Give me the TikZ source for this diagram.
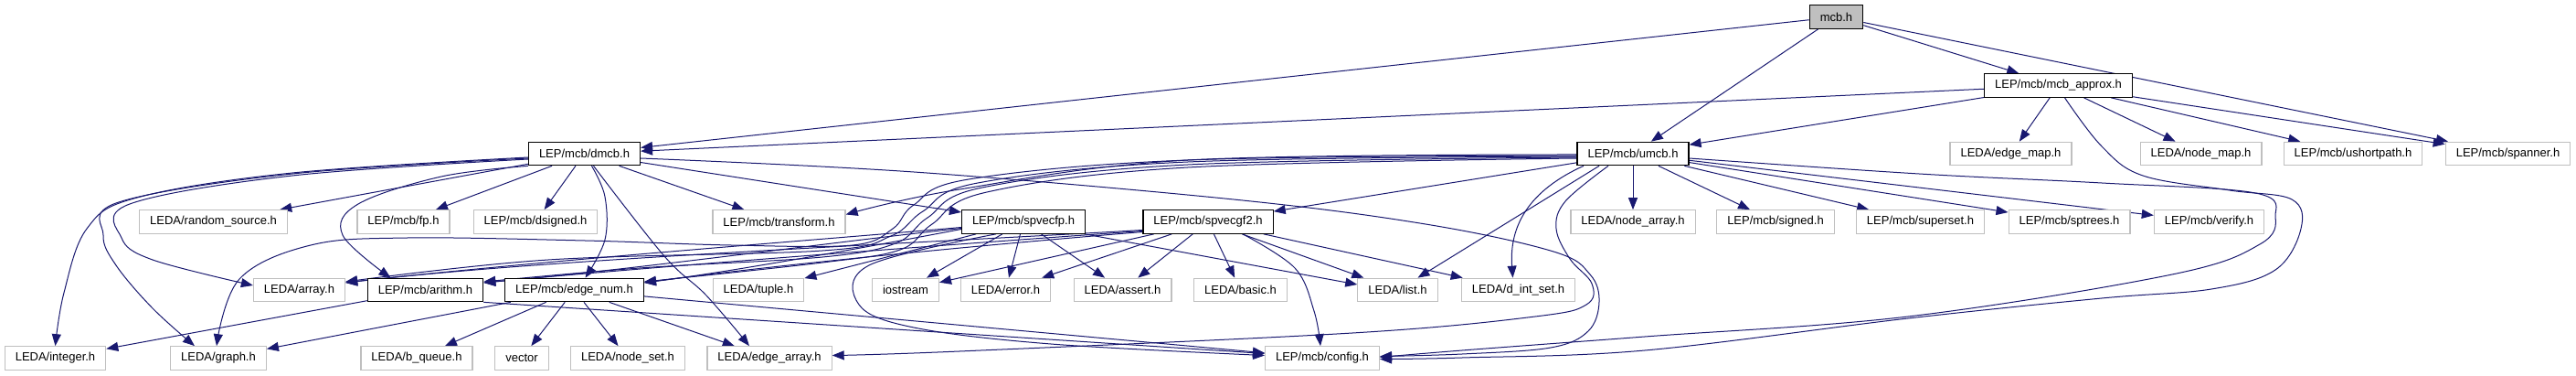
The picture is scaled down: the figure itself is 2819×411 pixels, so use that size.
\documentclass[tikz,border=0pt]{standalone}
\usepackage{fontspec}
\setmainfont{Liberation Sans}
\usetikzlibrary{arrows.meta}
\definecolor{edgeblue}{HTML}{191970}
\definecolor{lgray}{HTML}{BFBFBF}
\pgfdeclarelayer{bg}
\pgfdeclarelayer{paper}
\pgfsetlayers{paper,bg,main}
\tikzset{
  leafbox/.style={draw=lgray, fill=white, line width=1.2pt, minimum height=25.5pt,
    inner xsep=11.5pt, inner ysep=0pt, font=\fontsize{13}{15}\selectfont},
  incbox/.style={leafbox, draw=black},
  rootbox/.style={leafbox, draw=black, fill=lgray},
  dep/.style={draw=edgeblue, line width=1pt, -{Triangle[length=13pt,width=10pt]}},
  sm/.style={smooth, tension=0.6}
}
\begin{document}
\begin{tikzpicture}[x=1pt,y=-1pt]
\begin{pgfonlayer}{paper}
\fill[white] (0,0) rectangle (2819,411);
\end{pgfonlayer}
\useasboundingbox (0,0) rectangle (2819,411);
% row 1-2
\node[rootbox] (mcb) at (2009.5,18.5) {mcb.h};
\node[incbox] (approx) at (2252.5,93.5) {LEP/mcb/mcb\_approx.h};
% row 3
\node[incbox] (dmcb) at (639.5,168) {LEP/mcb/dmcb.h};
\node[incbox] (umcb) at (1787,168) {LEP/mcb/umcb.h};
\node[leafbox] (edgemap) at (2200.5,168) {LEDA/edge\_map.h};
\node[leafbox] (nodemap) at (2408.5,168) {LEDA/node\_map.h};
\node[leafbox] (ushort) at (2575,168) {LEP/mcb/ushortpath.h};
\node[leafbox] (spanner) at (2744.5,168) {LEP/mcb/spanner.h};
% row 4
\node[leafbox] (rsrc) at (233.5,242.5) {LEDA/random\_source.h};
\node[leafbox] (fp) at (441.5,242.5) {LEP/mcb/fp.h};
\node[leafbox] (dsigned) at (586,242.5) {LEP/mcb/dsigned.h};
\node[leafbox] (transform) at (852.5,242.5) {LEP/mcb/transform.h};
\node[incbox] (spvecfp) at (1120,242.5) {LEP/mcb/spvecfp.h};
\node[incbox] (spvecgf) at (1322,242.5) {LEP/mcb/spvecgf2.h};
\node[leafbox] (nodearray) at (1787,242.5) {LEDA/node\_array.h};
\node[leafbox] (signed) at (1943,242.5) {LEP/mcb/signed.h};
\node[leafbox] (superset) at (2101.5,242.5) {LEP/mcb/superset.h};
\node[leafbox] (sptrees) at (2264.5,242.5) {LEP/mcb/sptrees.h};
\node[leafbox] (verify) at (2417.5,242.5) {LEP/mcb/verify.h};
% row 5
\node[leafbox] (array) at (327.5,317) {LEDA/array.h};
\node[incbox] (arithm) at (465.5,317) {LEP/mcb/arithm.h};
\node[incbox] (edgenum) at (628.5,317) {LEP/mcb/edge\_num.h};
\node[leafbox] (tuple) at (830,317) {LEDA/tuple.h};
\node[leafbox] (iostream) at (991,317) {iostream};
\node[leafbox] (error) at (1100.5,317) {LEDA/error.h};
\node[leafbox] (assert) at (1228.5,317) {LEDA/assert.h};
\node[leafbox] (basic) at (1357.5,317) {LEDA/basic.h};
\node[leafbox] (list) at (1529.5,317) {LEDA/list.h};
\node[leafbox] (dintset) at (1661.5,317) {LEDA/d\_int\_set.h};
% row 6
\node[leafbox] (integer) at (60.5,391.5) {LEDA/integer.h};
\node[leafbox] (graph) at (239,391.5) {LEDA/graph.h};
\node[leafbox] (bqueue) at (456,391.5) {LEDA/b\_queue.h};
\node[leafbox] (vector) at (571,391.5) {vector};
\node[leafbox] (nodeset) at (687,391.5) {LEDA/node\_set.h};
\node[leafbox] (edgearray) at (842,391.5) {LEDA/edge\_array.h};
\node[leafbox] (config) at (1447,391.5) {LEP/mcb/config.h};

\begin{pgfonlayer}{bg}
% mcb.h
\draw[dep] (mcb) -- (dmcb);
\draw[dep] (mcb) -- (umcb);
\draw[dep] (mcb) -- (approx);
\draw[dep] (mcb) -- (spanner);
% mcb_approx.h
\draw[dep] (approx) -- (dmcb);
\draw[dep] (approx) -- (umcb);
\draw[dep] (approx) -- (edgemap);
\draw[dep] (approx) -- (nodemap);
\draw[dep] (approx) -- (ushort);
\draw[dep] (approx) -- (spanner);
\draw[dep] plot[sm] coordinates {([xshift=7pt]approx.south) (2300,160) (2345,192) (2440,208) (2508,218) (2518,250) (2490,295) (2420,316) (2300,326) (2088,348) (1800,383) (1600,391) ([yshift=-1pt]config.east)};
% dmcb.h
\draw[dep] plot[sm] coordinates {([yshift=-4pt]dmcb.west) (320,189) (150,216) (95,250) (70,320) (integer.north)};
\draw[dep] plot[sm] coordinates {([yshift=-5pt]dmcb.west) (320,190) (130,221) (113,257) (127,290) (167,337) ([xshift=-26pt]graph.north)};
\draw[dep] plot[sm] coordinates {([yshift=-6pt]dmcb.west) (320,192) (142,223) (133,260) (167,284) ([yshift=5pt]array.west)};
\draw[dep] (dmcb) -- (rsrc);
\draw[dep] plot[sm] coordinates {(dmcb.south west) (483,193) (392,223) (375,257) ([xshift=-38pt]arithm.north)};
\draw[dep] (dmcb) -- (fp);
\draw[dep] (dmcb) -- (dsigned);
\draw[dep] plot[sm] coordinates {([xshift=8pt]dmcb.south) (662,215) (662,262) ([xshift=12pt]edgenum.north)};
\draw[dep] plot[sm] coordinates {([xshift=10pt]dmcb.south) (727,280) (773,323) ([xshift=-22pt]edgearray.north)};
\draw[dep] (dmcb) -- (transform);
\draw[dep] (dmcb) -- (spvecfp);
\draw[dep] plot[sm] coordinates {([yshift=-5pt]dmcb.east) (1000,188) (1350,218) (1560,245) (1700,275) (1740,300) (1750,330) (1738,362) (1697,380) (1600,387) ([yshift=2pt]config.east)};
% umcb.h
\draw[dep] plot[sm] coordinates {([yshift=-1pt]umcb.west) (1300,175) (1050,207) ([yshift=8pt]transform.east)};
\draw[dep] plot[sm] coordinates {([yshift=-2pt]umcb.west) (1300,175) (1060,196) (1000,224) (977,250) (933,268) (800,268) (640,263) (446,260) (340,268) (262,305) ([xshift=-2pt]graph.north)};
\draw[dep] plot[sm] coordinates {([yshift=-3pt]umcb.west) (1300,177) (1070,200) (1010,231) (975,258) (900,274) (600,284) ([yshift=9pt]array.east)};
\draw[dep] plot[sm] coordinates {([yshift=-4pt]umcb.west) (1300,180) (1075,205) (1015,238) (980,266) (900,281) (700,293) ([yshift=9pt]arithm.east)};
\draw[dep] plot[sm] coordinates {([yshift=-5pt]umcb.west) (1300,183) (1080,210) (1020,245) (985,273) (900,287) ([yshift=9pt]edgenum.east)};
\draw[dep] (umcb) -- (spvecgf);
\draw[dep] ([xshift=-37pt]umcb.south) -- ([xshift=22pt]list.north);
\draw[dep] ([xshift=-54pt]umcb.south) .. controls (1665,212) and (1652,255) .. ([xshift=-6pt]dintset.north);
\draw[dep] (umcb) -- (nodearray);
\draw[dep] plot[sm] coordinates {([xshift=-27pt]umcb.south) (1713,220) (1703,250) (1718,283) (1742,310) (1736,333) (1680,346) (1480,364) (1050,384) ([yshift=3pt]edgearray.east)};
\draw[dep] plot[sm] coordinates {([yshift=-5pt]umcb.east) (2100,190) (2300,200) (2468,211) (2490,237) (2473,267) (2377,300) (2088,346) (1800,368) (1600,383) ([yshift=1pt]config.east)};
\draw[dep] (umcb) -- (signed);
\draw[dep] (umcb) -- (superset);
\draw[dep] (umcb) -- (sptrees);
\draw[dep] (umcb) -- (verify);
% spvecfp.h
\draw[dep] ([yshift=-6pt]spvecfp.west) .. controls (900,262) and (600,284) .. ([yshift=8pt]array.east);
\draw[dep] ([yshift=-7pt]spvecfp.west) .. controls (900,266) and (700,294) .. ([yshift=8pt]arithm.east);
\draw[dep] ([yshift=-8pt]spvecfp.west) .. controls (950,270) and (800,297) .. ([yshift=8pt]edgenum.east);
\draw[dep] (spvecfp) -- (tuple);
\draw[dep] (spvecfp) -- (iostream);
\draw[dep] (spvecfp) -- (error);
\draw[dep] (spvecfp) -- (assert);
\draw[dep] ([xshift=67pt]spvecfp.south) -- ([yshift=6pt]list.west);
\draw[dep] plot[sm] coordinates {([xshift=-30pt]spvecfp.south) (951,290) (940,333) (1000,358) (1150,376) ([yshift=3pt]config.west)};
% spvecgf2.h
\draw[dep] ([yshift=-9pt]spvecgf.west) .. controls (1000,266) and (600,283) .. ([yshift=8pt]array.east);
\draw[dep] ([yshift=-10pt]spvecgf.west) .. controls (1000,270) and (700,293) .. ([yshift=8pt]arithm.east);
\draw[dep] ([yshift=-11pt]spvecgf.west) .. controls (1000,274) and (800,296) .. ([yshift=8pt]edgenum.east);
\draw[dep] (spvecgf) -- (iostream);
\draw[dep] (spvecgf) -- (error);
\draw[dep] (spvecgf) -- (assert);
\draw[dep] (spvecgf) -- (basic);
\draw[dep] (spvecgf) -- (list);
\draw[dep] (spvecgf) -- (dintset);
\draw[dep] plot[sm] coordinates {([xshift=38pt]spvecgf.south) (1417,293) (1438,340) ([xshift=-2pt]config.north)};
% arithm.h
\draw[dep] (arithm) -- (integer);
\draw[dep] (arithm.south east) -- ([yshift=5pt]config.west);
% edge_num.h
\draw[dep] (edgenum) -- (graph);
\draw[dep] (edgenum) -- (bqueue);
\draw[dep] (edgenum) -- (vector);
\draw[dep] (edgenum) -- (nodeset);
\draw[dep] (edgenum) -- (edgearray);
\draw[dep] (edgenum) -- (config);
\end{pgfonlayer}
\end{tikzpicture}
\end{document}
